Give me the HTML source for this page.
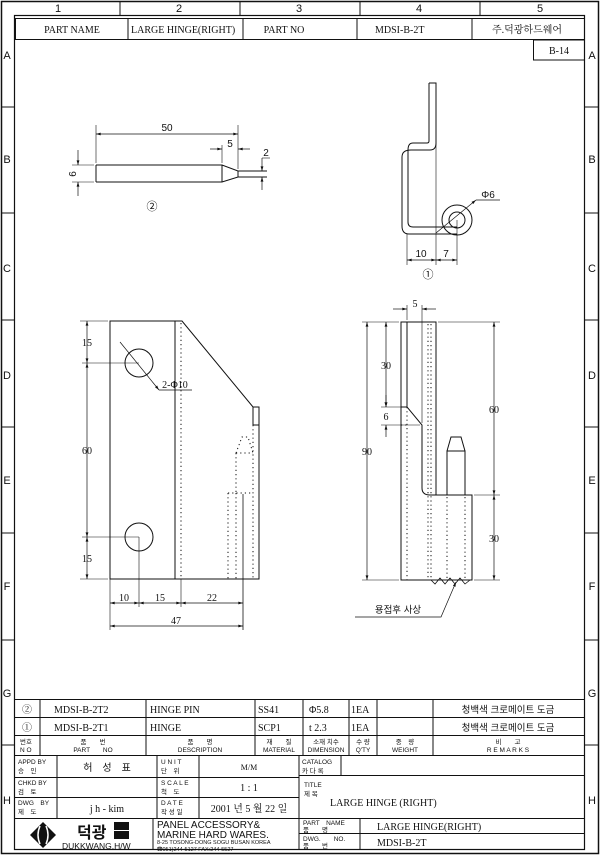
<!DOCTYPE html>
<html><head><meta charset="utf-8"><style>
html,body{margin:0;padding:0;background:#fff}
svg{display:block}
text{font-family:"Liberation Serif","Noto Serif CJK SC",serif;fill:#111}
.s{font-family:"Liberation Sans","Noto Sans CJK KR",sans-serif}
</style></head><body>
<svg width="600" height="857" viewBox="0 0 600 857" xmlns="http://www.w3.org/2000/svg" stroke="#111" fill="none" stroke-width="1">
<defs>
<marker id="a" viewBox="0 0 10 6" refX="10" refY="3" markerWidth="7" markerHeight="4" orient="auto-start-reverse"><path d="M0,0 L10,3 L0,6 z" fill="#111" stroke="none"/></marker>
</defs>
<!-- frame -->
<rect x="1.5" y="1.5" width="597" height="852" stroke-width="1.5"/>
<rect x="14.5" y="15.5" width="570" height="834" stroke-width="1.2"/>
<g stroke-width="1">
<line x1="120" y1="2" x2="120" y2="15"/><line x1="240" y1="2" x2="240" y2="15"/><line x1="360" y1="2" x2="360" y2="15"/><line x1="480" y1="2" x2="480" y2="15"/>
<line x1="2" y1="107" x2="14" y2="107"/><line x1="2" y1="213" x2="14" y2="213"/><line x1="2" y1="320" x2="14" y2="320"/><line x1="2" y1="427" x2="14" y2="427"/><line x1="2" y1="533" x2="14" y2="533"/><line x1="2" y1="640" x2="14" y2="640"/><line x1="2" y1="745" x2="14" y2="745"/>
<line x1="585" y1="107" x2="598" y2="107"/><line x1="585" y1="213" x2="598" y2="213"/><line x1="585" y1="320" x2="598" y2="320"/><line x1="585" y1="427" x2="598" y2="427"/><line x1="585" y1="533" x2="598" y2="533"/><line x1="585" y1="640" x2="598" y2="640"/><line x1="585" y1="745" x2="598" y2="745"/>
</g>
<g class="s" font-size="11" stroke="none" fill="#111" text-anchor="middle">
<text class="s" x="58" y="12">1</text><text class="s" x="179" y="12">2</text><text class="s" x="299" y="12">3</text><text class="s" x="419" y="12">4</text><text class="s" x="540" y="12">5</text>
<text class="s" x="7" y="59">A</text><text class="s" x="7" y="163">B</text><text class="s" x="7" y="272">C</text><text class="s" x="7" y="379">D</text><text class="s" x="7" y="484">E</text><text class="s" x="7" y="590">F</text><text class="s" x="7" y="697">G</text><text class="s" x="7" y="804">H</text>
<text class="s" x="592" y="59">A</text><text class="s" x="592" y="163">B</text><text class="s" x="592" y="272">C</text><text class="s" x="592" y="379">D</text><text class="s" x="592" y="484">E</text><text class="s" x="592" y="590">F</text><text class="s" x="592" y="697">G</text><text class="s" x="592" y="804">H</text>
</g>
<!-- header -->
<rect x="15.5" y="18.5" width="569" height="21"/>
<line x1="128" y1="18" x2="128" y2="40"/><line x1="243" y1="18" x2="243" y2="40"/><line x1="357" y1="18" x2="357" y2="40"/><line x1="472" y1="18" x2="472" y2="40"/>
<rect x="533.5" y="40" width="51" height="20"/>
<g font-size="10" stroke="none" fill="#111">
<text x="72" y="33" text-anchor="middle">PART NAME</text>
<text x="131" y="33">LARGE HINGE(RIGHT)</text>
<text x="284" y="33" text-anchor="middle">PART NO</text>
<text x="375" y="33">MDSI-B-2T</text>
<text x="527" y="33" text-anchor="middle">주.덕광하드웨어</text>
<text x="559" y="54" text-anchor="middle">B-14</text>
</g>

<!-- Part 2 pin -->
<g stroke-width="1">
<path d="M96,165 L222,165 L238,171 L267,171 M96,182 L222,182 L238,177 L267,177 M96,165 L96,182 M222,165 L222,182 M238,171 L238,177"/>
<line x1="96" y1="125" x2="96" y2="163" stroke-width=".6"/>
<line x1="238" y1="125" x2="238" y2="169" stroke-width=".6"/>
<line x1="222" y1="145" x2="222" y2="163" stroke-width=".6"/>
<line x1="96" y1="134" x2="238" y2="134" stroke-width=".7" marker-start="url(#a)" marker-end="url(#a)"/>
<line x1="210" y1="149" x2="222" y2="149" stroke-width=".7" marker-end="url(#a)"/>
<line x1="250" y1="149" x2="238" y2="149" stroke-width=".7" marker-end="url(#a)"/>
<line x1="72" y1="165" x2="94" y2="165" stroke-width=".6"/><line x1="72" y1="182" x2="94" y2="182" stroke-width=".6"/>
<line x1="78" y1="150" x2="78" y2="165" stroke-width=".7" marker-end="url(#a)"/>
<line x1="78" y1="196" x2="78" y2="182" stroke-width=".7" marker-end="url(#a)"/>
<line x1="262" y1="158" x2="262" y2="171" stroke-width=".7" marker-end="url(#a)"/>
<line x1="262" y1="190" x2="262" y2="177" stroke-width=".7" marker-end="url(#a)"/>
<line x1="262" y1="158" x2="270" y2="158" stroke-width=".6"/>
</g>
<g font-size="10" stroke="none" fill="#111" class="s">
<text class="s" x="167" y="131" text-anchor="middle">50</text>
<text class="s" x="230" y="147" text-anchor="middle">5</text>
<text class="s" x="266" y="156" text-anchor="middle">2</text>
<text class="s" x="0" y="0" transform="translate(76,174) rotate(-90)" text-anchor="middle">6</text>
<text class="s" x="152" y="210" text-anchor="middle" font-size="11">②</text>
</g>

<!-- Part 1 side -->
<g stroke-width="1">
<path d="M429,83 L436,83 L436,143 Q436,150 430,150 L411,150 Q402,150 402,157 L402,226 Q402,234 409,234 L457,234"/>
<path d="M429,83 L429,141 Q429,143 427,143 L413,143 Q408,143 408,150 L408,222 Q408,227 413,227 L457,227"/>
<circle cx="457" cy="220" r="15"/><circle cx="457" cy="220" r="8"/>
<line x1="436" y1="143" x2="436" y2="265" stroke-width=".6"/>
<line x1="407" y1="234" x2="407" y2="265" stroke-width=".6"/>
<line x1="457" y1="220" x2="457" y2="265" stroke-width=".6"/>
<line x1="407" y1="260" x2="436" y2="260" stroke-width=".7" marker-start="url(#a)" marker-end="url(#a)"/>
<line x1="436" y1="260" x2="457" y2="260" stroke-width=".7" marker-start="url(#a)" marker-end="url(#a)"/>
<line x1="436" y1="233" x2="476" y2="200" stroke-width=".7" marker-end="url(#a)"/>
<line x1="476" y1="200" x2="500" y2="200" stroke-width=".7"/>
</g>
<g font-size="10" stroke="none" fill="#111">
<text class="s" x="421" y="257" text-anchor="middle">10</text>
<text class="s" x="446" y="257" text-anchor="middle">7</text>
<text class="s" x="488" y="198" text-anchor="middle">Φ6</text>
<text class="s" x="428" y="278" text-anchor="middle" font-size="11">①</text>
</g>

<!-- Front view -->
<g stroke-width="1">
<path d="M110,321 L182,321 L253,407 L259,407 L259,579 L110,579 Z"/>
<line x1="175" y1="321" x2="175" y2="579"/>
<line x1="253" y1="407" x2="253" y2="425"/><line x1="253" y1="425" x2="259" y2="425"/>
<circle cx="139" cy="363" r="14"/><circle cx="139" cy="537" r="14"/>
<g stroke-dasharray="1.2,3" stroke-width="1">
<line x1="181" y1="323" x2="181" y2="579"/>
<line x1="253" y1="425" x2="253" y2="579"/>
<path d="M236,453 L236,493 M236,453 L242,437 L248,437 L253,453 M236,453 L253,453"/>
<line x1="228" y1="493" x2="253" y2="493"/>
<line x1="228" y1="493" x2="228" y2="579"/>
<line x1="236" y1="493" x2="236" y2="579"/>
</g>
<line x1="243" y1="494" x2="243" y2="630" stroke-width=".8"/>
<line x1="110" y1="579" x2="110" y2="630" stroke-width=".6"/>
<line x1="139" y1="537" x2="139" y2="607" stroke-width=".6"/>
<line x1="181" y1="579" x2="181" y2="607" stroke-width=".6"/>
<line x1="80" y1="321" x2="108" y2="321" stroke-width=".6"/>
<line x1="80" y1="579" x2="108" y2="579" stroke-width=".6"/>
<line x1="82" y1="363" x2="139" y2="363" stroke-width=".6"/>
<line x1="82" y1="537" x2="139" y2="537" stroke-width=".6"/>
<line x1="87" y1="321" x2="87" y2="363" stroke-width=".7" marker-start="url(#a)" marker-end="url(#a)"/>
<line x1="87" y1="363" x2="87" y2="537" stroke-width=".7" marker-start="url(#a)" marker-end="url(#a)"/>
<line x1="87" y1="537" x2="87" y2="579" stroke-width=".7" marker-start="url(#a)" marker-end="url(#a)"/>
<line x1="110" y1="603" x2="139" y2="603" stroke-width=".7" marker-start="url(#a)" marker-end="url(#a)"/>
<line x1="139" y1="603" x2="181" y2="603" stroke-width=".7" marker-start="url(#a)" marker-end="url(#a)"/>
<line x1="181" y1="603" x2="243" y2="603" stroke-width=".7" marker-start="url(#a)" marker-end="url(#a)"/>
<line x1="110" y1="626" x2="243" y2="626" stroke-width=".7" marker-start="url(#a)" marker-end="url(#a)"/>
<line x1="120" y1="342" x2="159" y2="390" stroke-width=".7" marker-end="url(#a)"/>
<line x1="159" y1="390" x2="192" y2="390" stroke-width=".7"/>
</g>
<g font-size="10" stroke="none" fill="#111">
<text x="87" y="346" text-anchor="middle">15</text>
<text x="87" y="454" text-anchor="middle">60</text>
<text x="87" y="562" text-anchor="middle">15</text>
<text x="124" y="601" text-anchor="middle">10</text>
<text x="160" y="601" text-anchor="middle">15</text>
<text x="212" y="601" text-anchor="middle">22</text>
<text x="176" y="624" text-anchor="middle">47</text>
<text x="175" y="388" text-anchor="middle">2-Φ10</text>
</g>

<!-- Side view -->
<g stroke-width="1">
<path d="M401,322 L436,322 L436,495 L472,495 L472,580 L401,580 Z"/>
<path d="M407,322 L407,407 L422,425 L422,488 Q422,495 430,495 L436,495"/>
<line x1="401" y1="407" x2="407" y2="407"/>
<path d="M447,495 L447,451 L465,451 L465,495 M447,451 L451,437 L461,437 L465,451"/>
<g stroke-dasharray="1.2,3">
<line x1="407" y1="407" x2="407" y2="580"/>
<line x1="428" y1="324" x2="428" y2="580"/>
<line x1="431" y1="324" x2="431" y2="580"/>
<line x1="447" y1="497" x2="447" y2="580"/>
<line x1="465" y1="497" x2="465" y2="580"/>
<line x1="401" y1="425" x2="407" y2="425"/>
</g>
<path d="M431,580 L435,584 L440,578 L445,584 L450,578 L455,584 L460,578 L465,584 L470,580" stroke-width=".8"/>
<line x1="407" y1="305" x2="407" y2="320" stroke-width=".6"/>
<line x1="422" y1="305" x2="422" y2="423" stroke-width=".6"/>
<line x1="393" y1="309" x2="407" y2="309" stroke-width=".7" marker-end="url(#a)"/>
<line x1="436" y1="309" x2="422" y2="309" stroke-width=".7" marker-end="url(#a)"/>
<line x1="362" y1="322" x2="399" y2="322" stroke-width=".6"/>
<line x1="362" y1="580" x2="399" y2="580" stroke-width=".6"/>
<line x1="381" y1="407" x2="401" y2="407" stroke-width=".6"/>
<line x1="381" y1="425" x2="420" y2="425" stroke-width=".6"/>
<line x1="438" y1="322" x2="500" y2="322" stroke-width=".6"/>
<line x1="474" y1="495" x2="500" y2="495" stroke-width=".6"/>
<line x1="474" y1="580" x2="500" y2="580" stroke-width=".6"/>
<line x1="367" y1="322" x2="367" y2="580" stroke-width=".7" marker-start="url(#a)" marker-end="url(#a)"/>
<line x1="386" y1="322" x2="386" y2="407" stroke-width=".7" marker-start="url(#a)" marker-end="url(#a)"/>
<line x1="386" y1="395" x2="386" y2="407" stroke-width=".7" marker-end="url(#a)"/>
<line x1="386" y1="437" x2="386" y2="425" stroke-width=".7" marker-end="url(#a)"/>
<line x1="494" y1="322" x2="494" y2="495" stroke-width=".7" marker-start="url(#a)" marker-end="url(#a)"/>
<line x1="494" y1="495" x2="494" y2="580" stroke-width=".7" marker-start="url(#a)" marker-end="url(#a)"/>
<path d="M355,617 L441,617 L456,582" stroke-width=".7" marker-end="url(#a)"/>
</g>
<g font-size="10" stroke="none" fill="#111">
<text x="415" y="307" text-anchor="middle">5</text>
<text x="367" y="455" text-anchor="middle">90</text>
<text x="386" y="369" text-anchor="middle">30</text>
<text x="386" y="420" text-anchor="middle">6</text>
<text x="494" y="413" text-anchor="middle">60</text>
<text x="494" y="542" text-anchor="middle">30</text>
<text class="s" x="398" y="613" text-anchor="middle" font-size="9.5">용접후 사상</text>
</g>

<!-- Title block -->
<g stroke-width="1">
<line x1="15" y1="699.5" x2="584" y2="699.5"/>
<line x1="15" y1="717.5" x2="584" y2="717.5"/>
<line x1="15" y1="735.5" x2="584" y2="735.5"/>
<line x1="15" y1="755.5" x2="584" y2="755.5"/>
<line x1="15" y1="777.5" x2="299" y2="777.5"/>
<line x1="15" y1="797.5" x2="299" y2="797.5"/>
<line x1="15" y1="818.5" x2="584" y2="818.5"/>
<line x1="299" y1="775.5" x2="584" y2="775.5"/>
<line x1="299" y1="833.5" x2="584" y2="833.5"/>
<line x1="40" y1="700" x2="40" y2="755"/><line x1="146" y1="700" x2="146" y2="755"/><line x1="255" y1="700" x2="255" y2="755"/>
<line x1="303" y1="700" x2="303" y2="755"/><line x1="349" y1="700" x2="349" y2="755"/><line x1="377" y1="700" x2="377" y2="755"/><line x1="433" y1="700" x2="433" y2="755"/>
<line x1="57" y1="755" x2="57" y2="818"/><line x1="157" y1="755" x2="157" y2="818"/><line x1="199" y1="755" x2="199" y2="818"/><line x1="299" y1="755" x2="299" y2="849"/>
<line x1="341" y1="755" x2="341" y2="775"/>
<line x1="153" y1="818" x2="153" y2="849"/><line x1="360" y1="818" x2="360" y2="849"/>
</g>
<g font-size="10" stroke="none" fill="#111">
<text x="27" y="713" text-anchor="middle">②</text><text x="27" y="731" text-anchor="middle">①</text>
<text x="54" y="713">MDSI-B-2T2</text><text x="54" y="731">MDSI-B-2T1</text>
<text x="150" y="713">HINGE PIN</text><text x="150" y="731">HINGE</text>
<text x="258" y="713">SS41</text><text x="258" y="731">SCP1</text>
<text x="309" y="713">Φ5.8</text><text x="309" y="731">t 2.3</text>
<text x="351" y="713">1EA</text><text x="351" y="731">1EA</text>
<text x="508" y="713" text-anchor="middle" class="s" font-size="9.5">청백색 크로메이트 도금</text>
<text x="508" y="731" text-anchor="middle" class="s" font-size="9.5">청백색 크로메이트 도금</text>
</g>
<g font-size="6.5" stroke="none" fill="#111" class="s">
<text class="s" x="20" y="744">번호</text><text class="s" x="20" y="752">N O</text>
<text class="s" x="93" y="744" text-anchor="middle">품　　번</text><text class="s" x="93" y="752" text-anchor="middle">PART　　NO</text>
<text class="s" x="200" y="744" text-anchor="middle">품　　명</text><text class="s" x="200" y="752" text-anchor="middle">DESCRIPTION</text>
<text class="s" x="279" y="744" text-anchor="middle">재　　질</text><text class="s" x="279" y="752" text-anchor="middle">MATERIAL</text>
<text class="s" x="326" y="744" text-anchor="middle">소재 치수</text><text class="s" x="326" y="752" text-anchor="middle">DIMENSION</text>
<text class="s" x="363" y="744" text-anchor="middle">수 량</text><text class="s" x="363" y="752" text-anchor="middle">Q'TY</text>
<text class="s" x="405" y="744" text-anchor="middle">중　량</text><text class="s" x="405" y="752" text-anchor="middle">WEIGHT</text>
<text class="s" x="508" y="744" text-anchor="middle">비　　고</text><text class="s" x="508" y="752" text-anchor="middle">R E M A R K S</text>
<text class="s" x="18" y="764">APPD BY</text><text class="s" x="18" y="773">승　인</text>
<text class="s" x="18" y="785">CHKD BY</text><text class="s" x="18" y="794">검　토</text>
<text class="s" x="18" y="805">DWG　BY</text><text class="s" x="18" y="814">제　도</text>
<text class="s" x="161" y="764">U N I T</text><text class="s" x="161" y="773">단　위</text>
<text class="s" x="161" y="785">S C A L E</text><text class="s" x="161" y="794">척　도</text>
<text class="s" x="161" y="805">D A T E</text><text class="s" x="161" y="814">작 성 일</text>
<text class="s" x="302" y="764">CATALOG</text><text class="s" x="302" y="773">카 다 록</text>
<text class="s" x="304" y="787">TITLE</text><text class="s" x="304" y="796">제 목</text>
<text class="s" x="303" y="825">PART　NAME</text><text class="s" x="303" y="832">품　　명</text>
<text class="s" x="303" y="841">DWG.　　NO.</text><text class="s" x="303" y="848">품　　번</text>
<text class="s" x="157" y="844" font-size="5.5">8-25 TOSONG-DONG SOGU BUSAN KOREA</text>
<text class="s" x="157" y="851" font-size="5.5">☎051)244-5127 FAX:244-5527</text>
</g>
<g font-size="10" stroke="none" fill="#111">
<text x="107" y="771" text-anchor="middle" class="s" font-size="10">허　성　표</text>
<text x="249" y="770" text-anchor="middle" font-size="8">M/M</text>
<text x="249" y="791" text-anchor="middle">1 : 1</text>
<text x="107" y="812" text-anchor="middle">j h - kim</text>
<text x="249" y="812" text-anchor="middle">2001 년 5 월 22 일</text>
<text x="330" y="806">LARGE HINGE (RIGHT)</text>
<text x="377" y="830">LARGE HINGE(RIGHT)</text>
<text x="377" y="846">MDSI-B-2T</text>
<text class="s" x="157" y="828" font-size="10">PANEL ACCESSORY&amp;</text>
<text class="s" x="157" y="838" font-size="10">MARINE HARD WARES.</text>
</g>
<!-- logo -->
<path d="M43,822 L56,835 L43,848 L30,835 Z" fill="#111" stroke="none"/>
<path d="M40,826 Q36,835 40,844 M46,826 Q50,835 46,844" stroke="#fff" stroke-width="1.5"/>
<text x="77" y="838" class="s" font-size="16" font-weight="bold" stroke="none" fill="#111">덕광</text>
<rect x="114" y="822" width="15" height="8" fill="#111" stroke="none"/><rect x="114" y="831" width="15" height="8" fill="#111" stroke="none"/>
<text x="62" y="849" class="s" font-size="8.5" stroke="none" fill="#111">DUKKWANG.H/W</text>
</svg>
</body></html>
